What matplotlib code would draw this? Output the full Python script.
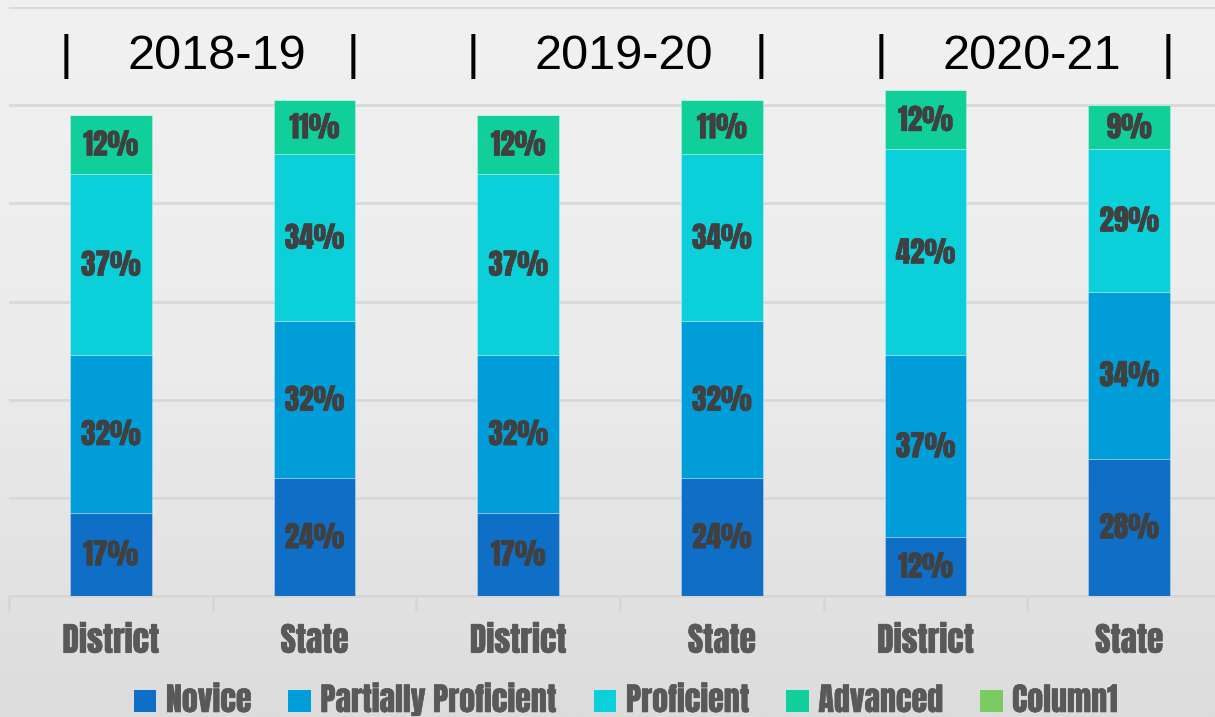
import numpy as np
import matplotlib
matplotlib.use('Agg')
import matplotlib.pyplot as plt
from matplotlib import font_manager
from matplotlib.patches import Patch
import matplotlib.patheffects as pe

# data
years = ['2018-19', '2019-20', '2020-21']
groups = ['District', 'State', 'District', 'State', 'District', 'State']
series_names = ['Novice', 'Partially Proficient', 'Proficient', 'Advanced', 'Column1']
novice = [17, 24, 17, 24, 12, 28]
partial = [32, 32, 32, 32, 37, 34]
proficient = [37, 34, 37, 34, 42, 29]
advanced = [12, 11, 12, 11, 12, 9]
column1 = [0, 0, 0, 0, 0, 0]

colors = ['#0F6FC6', '#009DD9', '#0BD0D9', '#10CF9B', '#7CCA62']

# Impact-like face for labels
names = set(f.name for f in font_manager.fontManager.ttflist)
if 'Anton' in names:
    cond = {'family': 'Anton'}
else:
    cond = {'family': 'DejaVu Sans', 'weight': 'bold', 'stretch': 'condensed'}

fig = plt.figure(figsize=(12.15, 7.17), dpi=100)

# light grey paper background
bg = fig.add_axes([0, 0, 1, 1], zorder=-10)
grad = np.linspace(0, 1, 256).reshape(-1, 1)
bg.imshow(grad, aspect='auto', cmap=matplotlib.colors.LinearSegmentedColormap.from_list(
    'bg', ['#f1f1f1', '#ececec', '#dcdcdc']), extent=[0, 1, 0, 1])
bg.axis('off')

ax = fig.add_axes([9 / 1215, 121 / 717, 1222 / 1215, 589 / 717])
ax.patch.set_alpha(0)

x = np.arange(len(groups))
w = 0.40
series = [novice, partial, proficient, advanced, column1]
bottom = np.zeros(len(groups))
for vals, c in zip(series, colors):
    vals = np.array(vals)
    ax.bar(x, vals, w, bottom=bottom, color=c, edgecolor='#ffffff55', linewidth=0.6, zorder=3)
    for xi, b, v in zip(x, bottom, vals):
        if v > 0:
            ax.text(xi, b + v / 2, f'{v}%', ha='center', va='center', color='#404040',
                    fontsize=21, zorder=4, **cond,
                    path_effects=[pe.withStroke(linewidth=0.4, foreground='#404040')])
    bottom += vals

ax.set_xlim(-0.5, 5.5)
ax.set_ylim(0, 120)
ax.set_yticks(np.arange(0, 121, 20))
ax.yaxis.grid(True, color='#d8d8d8', linewidth=2)
ax.set_axisbelow(True)
ax.tick_params(axis='y', left=False, labelleft=False)
for s in ['top', 'right', 'left']:
    ax.spines[s].set_visible(False)
ax.spines['bottom'].set_color('#d6d6d6')
ax.spines['bottom'].set_linewidth(2)

ax.set_xticks(x)
ax.set_xticklabels(groups, color='#595959', fontsize=24, **cond)
for t in ax.get_xticklabels():
    t.set_path_effects([pe.withStroke(linewidth=0.4, foreground='#595959')])
ax.tick_params(axis='x', length=0, pad=20)
# boundary ticks between categories
ax.set_xticks(np.arange(-0.5, 5.6, 1), minor=True)
ax.tick_params(axis='x', which='minor', length=11, width=2, color='#d6d6d6')

# year headers above each pair
for i, yr in enumerate(years):
    c = 2 * i + 0.5
    ax.text(c + 0.02, 110, yr, ha='center', va='center', fontsize=35,
            family='Liberation Sans', color='black')
    ax.text(c - 0.72, 110, '|', ha='center', va='center', fontsize=35,
            family='Liberation Sans', color='black')
    ax.text(c + 0.69, 110, '|', ha='center', va='center', fontsize=35,
            family='Liberation Sans', color='black')

handles = [Patch(facecolor=c, edgecolor='none') for c in colors]
leg = fig.legend(handles, series_names, loc='center', bbox_to_anchor=(626 / 1215, 1 - 699 / 717),
                 ncol=5, frameon=False, handlelength=0.7, handleheight=0.7, handletextpad=0.3,
                 columnspacing=1.15, prop=font_manager.FontProperties(size=23, **cond))
for t in leg.get_texts():
    t.set_color('#595959')
    t.set_path_effects([pe.withStroke(linewidth=0.4, foreground='#595959')])

fig.savefig('out.png', dpi=100)
